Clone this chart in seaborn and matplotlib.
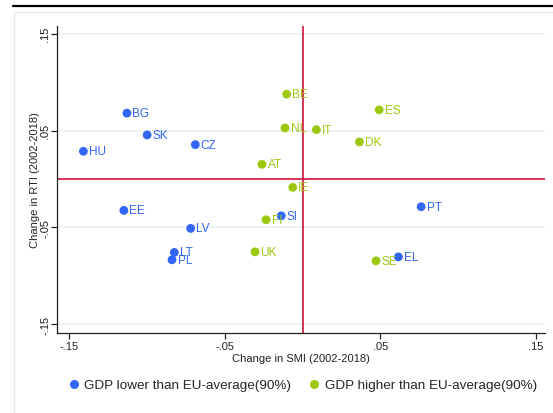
import matplotlib
matplotlib.use("Agg")
import matplotlib.pyplot as plt
from matplotlib.lines import Line2D
from matplotlib.patches import Rectangle
import seaborn as sns
import pandas as pd

# Country codes and changes over 2002-2018
countries = ["BG", "SK", "CZ", "HU", "EE", "LV", "LT", "PL", "SI", "PT", "EL",
             "BE", "ES", "NL", "IT", "DK", "AT", "IE", "FI", "UK", "SE"]
smi_change = [-0.113, -0.100, -0.069, -0.141, -0.115, -0.072, -0.0825, -0.084,
              -0.0137, 0.0763, 0.0617,
              -0.0102, 0.0493, -0.0113, 0.0089, 0.0366, -0.0261, -0.0063,
              -0.0235, -0.0306, 0.0473]
rti_change = [0.068, 0.0455, 0.0355, 0.0286, -0.0324, -0.051, -0.0758, -0.0834,
              -0.038, -0.0286, -0.0804,
              0.0876, 0.0714, 0.0527, 0.051, 0.0383, 0.0152, -0.0086,
              -0.0421, -0.0752, -0.0845]
gdp_group = ["low"] * 11 + ["high"] * 10

group_labels = {"low": "GDP lower than EU-average(90%)",
                "high": "GDP higher than EU-average(90%)"}
palette = {"low": "#3366F6", "high": "#9BC90F"}

tick_values = [-0.15, -0.05, 0.05, 0.15]
tick_labels = ["-.15", "-.05", ".05", ".15"]

df = pd.DataFrame({"country": countries, "smi": smi_change,
                   "rti": rti_change, "group": gdp_group})

sns.set_theme(style="white")
plt.rcParams["font.family"] = ["Liberation Sans", "DejaVu Sans"]

fig = plt.figure(figsize=(5.53, 4.14), dpi=100)
fig.patch.set_facecolor("white")

# outer frame and rule above the graph
fig.add_artist(Rectangle((14 / 553, -0.05), 1.0, 1 - 13 / 414 + 0.05,
                         transform=fig.transFigure, fill=False,
                         edgecolor="#E6ECEE", linewidth=1.0))
fig.add_artist(Line2D([13 / 553, 1.0], [1 - 7 / 414, 1 - 7 / 414],
                      transform=fig.transFigure, color="black", linewidth=1.6))

ax = fig.add_axes([57 / 553, 1 - 334 / 414, (545 - 57) / 553, (334 - 27) / 414])

for y in tick_values:
    ax.axhline(y, color="#E9EFF2", linewidth=1.2, zorder=0)
ax.axhline(0, color="#D0103A", linewidth=1.2, zorder=1)
ax.axvline(0, color="#D0103A", linewidth=1.2, zorder=1)

sns.scatterplot(data=df, x="smi", y="rti", hue="group", palette=palette,
                s=40, edgecolor="none", legend=False, ax=ax, zorder=3)

for _, r in df.iterrows():
    ax.annotate(r["country"], (r["smi"], r["rti"]), xytext=(4, 0),
                textcoords="offset points", va="center", ha="left",
                fontsize=8.5, color=palette[r["group"]], zorder=4)

ax.set_xlim(-0.158, 0.156)
ax.set_ylim(-0.159, 0.158)
ax.set_xticks(tick_values)
ax.set_xticklabels(tick_labels)
ax.set_yticks(tick_values)
ax.set_yticklabels(tick_labels, rotation=90, va="center")
ax.tick_params(axis="both", which="major", length=4, width=0.9, color="#222222",
               labelsize=8, labelcolor="#222222", direction="out",
               bottom=True, left=True)
ax.tick_params(axis="x", pad=2)
ax.tick_params(axis="y", pad=1)

for side in ["top", "right"]:
    ax.spines[side].set_visible(False)
for side in ["left", "bottom"]:
    ax.spines[side].set_color("#222222")
    ax.spines[side].set_linewidth(0.9)

ax.set_xlabel("Change in SMI (2002-2018)", fontsize=8, color="#222222", labelpad=1)
ax.set_ylabel("Change in RTI (2002-2018)", fontsize=8, color="#222222", labelpad=0)
ax.patch.set_alpha(0)

handles = [Line2D([], [], marker="o", linestyle="none", markersize=6.5,
                  markerfacecolor=palette[g], markeredgecolor="none",
                  label=group_labels[g]) for g in ["low", "high"]]
fig.legend(handles=handles, loc="center", bbox_to_anchor=(302 / 553, 1 - 386 / 414),
           ncol=2, frameon=False, fontsize=9.7, handletextpad=0.3,
           columnspacing=1.2, handlelength=1.0)

fig.savefig("out.png", dpi=100)
